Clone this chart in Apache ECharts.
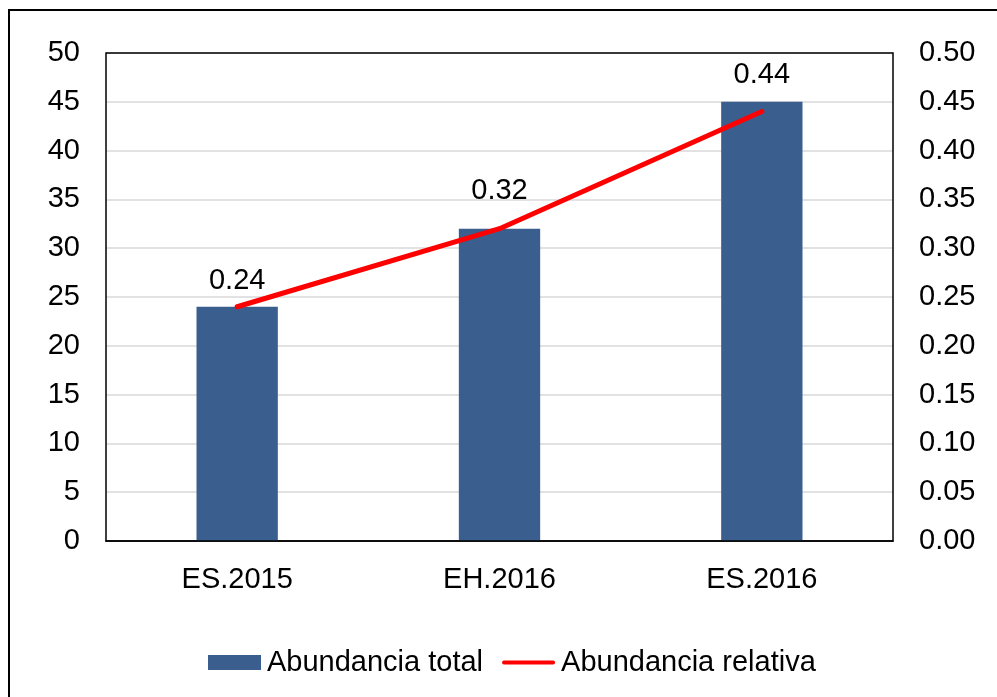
<!DOCTYPE html>
<html>
<head>
<meta charset="utf-8">
<script src="https://cdn.jsdelivr.net/npm/echarts@6/dist/echarts.min.js"></script>
<style>
  html, body { margin: 0; padding: 0; background: #fff; }
  #chart { width: 997px; height: 697px; }
</style>
</head>
<body>
<div id="chart"></div>
<script>
// datos
var categories = ["ES.2015", "EH.2016", "ES.2016"];
var abundanciaTotal = [24, 32, 45];
var abundanciaRelativa = [0.24, 0.32, 0.44];
var seriesNames = ["Abundancia total", "Abundancia relativa"];

// separación de cada etiqueta (colocadas a mano en el original)
var labelDistances = [11, 23, 22];

var FONT = "'Liberation Sans', Arial, sans-serif";
var FS = 29;

var chart = echarts.init(document.getElementById("chart"));
var option = {
  animation: false,
  backgroundColor: "#fff",
  textStyle: { fontFamily: FONT },
  graphic: [
    { // marco exterior
      type: "rect",
      shape: { x: 9, y: 10, width: 1100, height: 800 },
      style: { fill: "none", stroke: "#000", lineWidth: 2 },
      silent: true
    },
    { // borde del área de trazado (encima de las líneas de división)
      type: "rect",
      z: 100,
      shape: { x: 106, y: 53, width: 787, height: 488 },
      style: { fill: "none", stroke: "#000", lineWidth: 1.5 },
      silent: true
    }
  ],
  grid: { left: 106, right: 104, top: 53, bottom: 156 },
  legend: {
    left: 208,
    top: 648,
    padding: 0,
    itemWidth: 53,
    itemHeight: 15,
    itemGap: 19,
    textStyle: { fontFamily: FONT, fontSize: FS, color: "#000", padding: [0, 0, 0, 1] },
    data: [
      { name: seriesNames[0], icon: "rect" },
      { name: seriesNames[1], icon: "path://M2,0 L54,0 A2,2 0 0 1 54,4 L2,4 A2,2 0 0 1 2,0 Z" }
    ]
  },
  xAxis: {
    type: "category",
    data: categories,
    axisTick: { show: false },
    axisLine: { lineStyle: { color: "#000", width: 1.5 } },
    axisLabel: { color: "#000", fontSize: FS, fontFamily: FONT, margin: 24 }
  },
  yAxis: [
    {
      type: "value", min: 0, max: 50, interval: 5,
      axisLine: { show: false }, axisTick: { show: false },
      splitLine: { lineStyle: { color: "#d9d9d9", width: 1.5 } },
      axisLabel: { color: "#000", fontSize: FS, fontFamily: FONT, margin: 26 }
    },
    {
      type: "value", min: 0, max: 0.5, interval: 0.05,
      axisLine: { show: false }, axisTick: { show: false },
      splitLine: { show: false },
      axisLabel: {
        color: "#000", fontSize: FS, fontFamily: FONT, margin: 26,
        formatter: function (v) { return v.toFixed(2); }
      }
    }
  ],
  series: [
    {
      name: seriesNames[0],
      type: "bar",
      barWidth: "31%",
      itemStyle: { color: "#3a5f8f" },
      data: abundanciaTotal
    },
    {
      name: seriesNames[1],
      type: "line",
      yAxisIndex: 1,
      symbol: "circle",
      symbolSize: 0.1,
      showSymbol: true,
      itemStyle: { color: "#ff0000" },
      lineStyle: { color: "#ff0000", width: 5, cap: "round" },
      label: {
        show: true, position: "top",
        color: "#000", fontSize: FS, fontFamily: FONT,
        formatter: function (p) { return p.value.toFixed(2); }
      },
      data: abundanciaRelativa.map(function (v, i) {
        return { value: v, label: { distance: labelDistances[i] } };
      })
    }
  ]
};
chart.setOption(option);
</script>
</body>
</html>
